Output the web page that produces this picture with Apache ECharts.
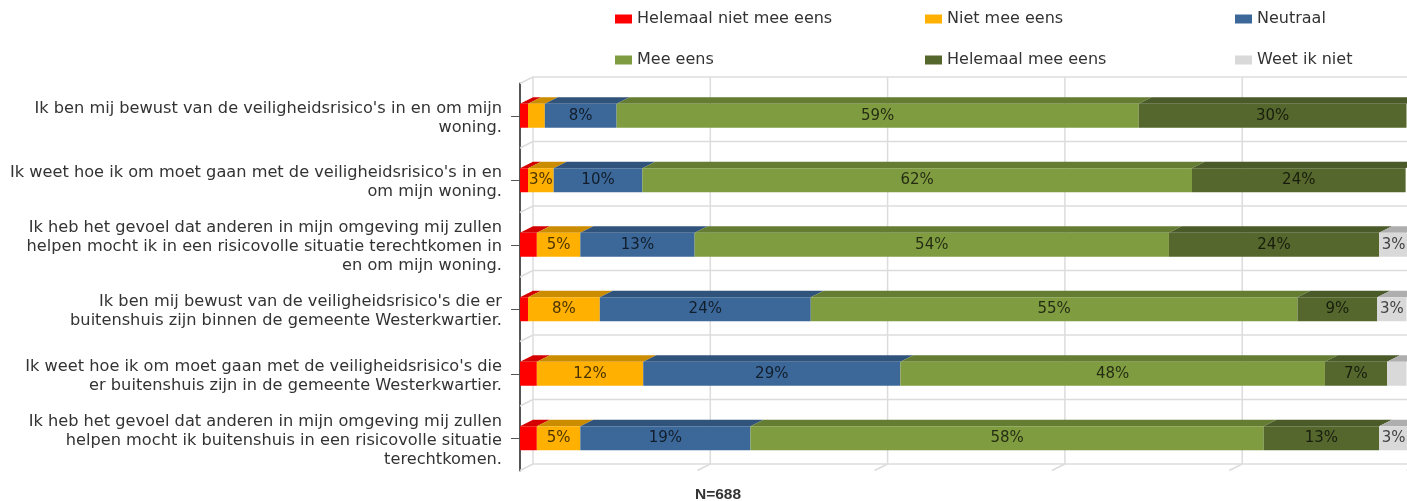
<!DOCTYPE html>
<html>
<head>
<meta charset="utf-8">
<title>Veiligheid</title>
<script src="https://cdn.jsdelivr.net/npm/echarts@6/dist/echarts.min.js"></script>
<style>
  html, body { margin: 0; padding: 0; background: #fff; }
  #chart { width: 1407px; height: 501px; }
</style>
</head>
<body>
<div id="chart"></div>
<script>
// stellingen, van boven naar beneden
var categories = [
  "Ik ben mij bewust van de veiligheidsrisico's in en om mijn\nwoning.",
  "Ik weet hoe ik om moet gaan met de veiligheidsrisico's in en\nom mijn woning.",
  "Ik heb het gevoel dat anderen in mijn omgeving mij zullen\nhelpen mocht ik in een risicovolle situatie terechtkomen in\nen om mijn woning.",
  "Ik ben mij bewust van de veiligheidsrisico's die er\nbuitenshuis zijn binnen de gemeente Westerkwartier.",
  "Ik weet hoe ik om moet gaan met de veiligheidsrisico's die\ner buitenshuis zijn in de gemeente Westerkwartier.",
  "Ik heb het gevoel dat anderen in mijn omgeving mij zullen\nhelpen mocht ik buitenshuis in een risicovolle situatie\nterechtkomen."
];
var seriesNames = ['Helemaal niet mee eens', 'Niet mee eens', 'Neutraal', 'Mee eens', 'Helemaal mee eens', 'Weet ik niet'];

var helemaalNiet = [0.9, 0.9, 1.9, 0.9, 1.9, 1.9];
var nietMee      = [1.9, 2.9, 4.9, 8.1, 12, 4.9];
var neutraal     = [8.1, 10, 12.9, 23.8, 29, 19.2];
var meeEens      = [58.9, 62, 53.5, 54.9, 47.9, 57.9];
var helemaalMee  = [30.2, 24.1, 23.7, 9, 7, 13];
var weetNiet     = [0, 0, 3.3, 3.3, 2.2, 3.3];

var xTicks = [0, 20, 40, 60, 80, 100];
var footnote = 'N=688';

var allValues = [helemaalNiet, nietMee, neutraal, meeEens, helemaalMee, weetNiet];
var frontColors = ['#ff0000', '#ffb000', '#3c6899', '#7f9c40', '#55672d', '#d9d9d9'];
var topColors = ['#d40000', '#cc8c00', '#30537b', '#657d33', '#4a5a28', '#aeaeae'];

var DEPTH_X = 13, DEPTH_Y = 6.5, BAR_H = 24;
var GRID_LINE = '#dcdcdc';
var FONT = 'DejaVu Sans';

// 3d balk: voorkant + bovenkant
function renderBar(idx) {
  return function (params, api) {
    var a = api.coord([api.value(1), api.value(0)]);
    var b = api.coord([api.value(2), api.value(0)]);
    var y0 = a[1] - BAR_H / 2;
    var children = [
      {
        type: 'polygon',
        shape: { points: [[a[0], y0], [a[0] + DEPTH_X, y0 - DEPTH_Y], [b[0] + DEPTH_X, y0 - DEPTH_Y], [b[0], y0]] },
        style: { fill: topColors[idx] }
      },
      {
        type: 'rect',
        shape: { x: a[0], y: y0, width: b[0] - a[0], height: BAR_H },
        style: { fill: frontColors[idx] }
      }
    ];
    var v = api.value(2) - api.value(1);
    if (v >= 2.5) {
      children.push({
        type: 'text',
        style: {
          text: Math.round(v) + '%',
          x: (a[0] + b[0]) / 2, y: a[1],
          align: 'center', verticalAlign: 'middle',
          fill: 'rgba(0,0,0,0.72)', fontFamily: FONT, fontSize: 15
        }
      });
    }
    return { type: 'group', children: children };
  };
}

var barSeries = seriesNames.map(function (name, s) {
  var data = categories.map(function (c, i) {
    var start = 0;
    for (var k = 0; k < s; k++) start += allValues[k][i];
    return [i, start, start + allValues[s][i]];
  });
  return {
    name: name,
    type: 'custom',
    xAxisIndex: 0, yAxisIndex: 0,
    z: 5,
    clip: false,
    itemStyle: { color: frontColors[s] },
    encode: { x: [1, 2], y: 0 },
    renderItem: renderBar(s),
    data: data
  };
});

function gridLine(x1, y1, x2, y2) {
  return {
    type: 'line',
    shape: { x1: x1, y1: y1, x2: x2, y2: y2 },
    style: { stroke: GRID_LINE, lineWidth: 1.5 }
  };
}

// verticale lijnen op de achterwand + schuine lijntjes op de vloer
var floorLines = {
  type: 'custom', xAxisIndex: 0, yAxisIndex: 0, z: 2, silent: true, clip: false,
  encode: { x: 0 },
  renderItem: function (params, api) {
    var p = api.coord([api.value(0), categories.length - 1]);
    var band = api.size([0, 1])[1];
    var yBottom = p[1] + band / 2;
    var yTop = yBottom - band * categories.length;
    var children = [
      gridLine(p[0], yBottom, p[0] + DEPTH_X, yBottom - DEPTH_Y),
      gridLine(p[0] + DEPTH_X, yBottom - DEPTH_Y, p[0] + DEPTH_X, yTop - DEPTH_Y)
    ];
    if (api.value(0) === 0) {
      children.push(gridLine(p[0] + DEPTH_X, yBottom - DEPTH_Y, 1407, yBottom - DEPTH_Y));
    }
    return { type: 'group', children: children };
  },
  data: xTicks.map(function (t) { return [t]; })
};
// horizontale lijnen op de achterwand + schuine lijntjes op de zijwand
var wallLines = {
  type: 'custom', xAxisIndex: 0, yAxisIndex: 0, z: 2, silent: true, clip: false,
  encode: { y: 0 },
  renderItem: function (params, api) {
    var p = api.coord([0, api.value(0)]);
    var yTop = p[1] - api.size([0, 1])[1] / 2;
    return {
      type: 'group',
      children: [
        gridLine(p[0], yTop, p[0] + DEPTH_X, yTop - DEPTH_Y),
        gridLine(p[0] + DEPTH_X, yTop - DEPTH_Y, 1407, yTop - DEPTH_Y)
      ]
    };
  },
  data: categories.map(function (c, i) { return [i]; })
};

var legendLeft = [615, 925, 1235], legendTop = [11, 52];
var legends = seriesNames.map(function (name, i) {
  return {
    data: [name],
    left: legendLeft[i % 3],
    top: legendTop[Math.floor(i / 3)],
    padding: 0,
    icon: 'rect',
    itemWidth: 17, itemHeight: 9, itemGap: 0,
    textStyle: { fontFamily: FONT, fontSize: 16, color: '#333' }
  };
});

var myChart = echarts.init(document.getElementById('chart'), null, { renderer: 'canvas' });
myChart.setOption({
  animation: false,
  backgroundColor: '#fff',
  title: {
    text: footnote,
    left: 695, top: 487, padding: 0,
    textStyle: { fontFamily: 'Liberation Sans', fontSize: 15.5, fontWeight: 'bold', color: '#333' }
  },
  legend: legends,
  grid: { left: 520, top: 83.5, width: 886.5, height: 387, containLabel: false },
  xAxis: {
    type: 'value', min: 0, max: 100, interval: 20,
    axisLine: { show: false }, axisTick: { show: false }, axisLabel: { show: false }, splitLine: { show: false }
  },
  yAxis: {
    type: 'category', inverse: true, data: categories,
    axisLine: { show: true, lineStyle: { color: '#555', width: 2 } },
    axisTick: { show: true, alignWithLabel: true, length: 9, lineStyle: { color: '#555' } },
    axisLabel: {
      interval: 0, margin: 18, align: 'right',
      // elke regel iets omlaag
      formatter: function (value) {
        return value.split('\n').map(function (line) {
          return '{line|' + line + '}';
        }).join('\n');
      },
      rich: {
        line: { padding: [5, 0, 0, 0], fontFamily: FONT, fontSize: 16.2, color: '#333', lineHeight: 19 }
      }
    },
    splitLine: { show: false }
  },
  series: [floorLines, wallLines].concat(barSeries)
});
</script>
</body>
</html>
